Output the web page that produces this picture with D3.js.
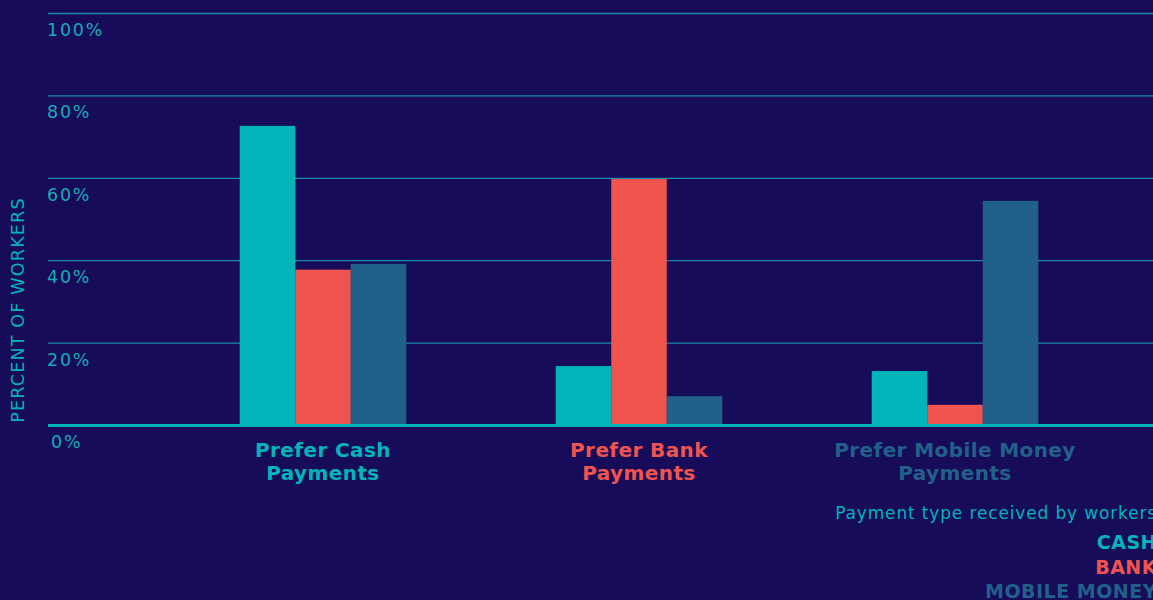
<!DOCTYPE html>
<html>
<head>
<meta charset="utf-8">
<script src="https://cdn.jsdelivr.net/npm/d3@7"></script>
<style>
  html, body { margin: 0; padding: 0; background: #170c59; overflow: hidden; }
  svg { display: block; }
</style>
</head>
<body>
<div id="chart"></div>
<script>
// data
const categories = ["Prefer Cash Payments", "Prefer Bank Payments", "Prefer Mobile Money Payments"]
const categoryLines = [["Prefer Cash", "Payments"], ["Prefer Bank", "Payments"], ["Prefer Mobile Money", "Payments"]]
const seriesNames = ["CASH", "BANK", "MOBILE MONEY"]
const cashValues = [72.6, 14.3, 13.1]
const bankValues = [37.7, 59.7, 4.9]
const mobileValues = [39.1, 7.0, 54.4]
const yTicks = [0, 20, 40, 60, 80, 100]
const legendTitle = "Payment type received by workers"
const yTitle = "PERCENT OF WORKERS"

const colors = ["#00b4b9", "#f0544f", "#216189"]
const bg = "#170c59"

const width = 1153
const height = 600

const svg = d3.select("#chart").append("svg")
    .attr("width", width)
    .attr("height", height)

svg.append("rect").attr("width", width).attr("height", height).attr("fill", bg)

const y = d3.scaleLinear().domain([0, 100]).range([425, 13])
const x0 = d3.scaleBand().domain(categories).range([165, 1113])
    .paddingInner(0.473).paddingOuter(0.2365)
const x1 = d3.scaleBand().domain(seriesNames).range([0, x0.bandwidth()])

const seriesValues = [cashValues, bankValues, mobileValues]
const rows = categories.map((c, i) => ({
    category: c,
    values: seriesNames.map((s, j) => ({ series: s, idx: j, value: seriesValues[j][i] }))
}))

// gridlines
const grid = svg.append("g")
    .attr("transform", "translate(48,0)")
    .call(d3.axisLeft(y).tickValues(yTicks.filter(d => d > 0)).tickSize(-(width - 48)).tickFormat(""))
grid.select(".domain").remove()
grid.selectAll("line").attr("stroke", "#1a8aa8").attr("stroke-width", 1.3)

// tick labels sit under their gridline
svg.append("g").selectAll("text")
    .data(yTicks)
    .enter().append("text")
    .attr("x", d => d === 0 ? 51 : 47)
    .attr("y", d => y(d) + 23)
    .attr("fill", "#19aab5")
    .attr("font-family", "'DejaVu Sans', sans-serif")
    .attr("font-size", 17.5)
    .attr("letter-spacing", 1.8)
    .text(d => d + "%")

// bars
const groups = svg.append("g").selectAll("g")
    .data(rows)
    .enter().append("g")
    .attr("transform", d => "translate(" + x0(d.category) + ",0)")

groups.selectAll("rect")
    .data(d => d.values)
    .enter().append("rect")
    .attr("x", d => x1(d.series))
    .attr("width", x1.bandwidth())
    .attr("y", d => y(d.value))
    .attr("height", d => y(0) - y(d.value))
    .attr("fill", d => colors[d.idx])

// baseline
svg.append("line")
    .attr("x1", 48).attr("x2", width)
    .attr("y1", y(0) + 0.5).attr("y2", y(0) + 0.5)
    .attr("stroke", "#00b4b9").attr("stroke-width", 3)

// category labels, one text per line
const catG = svg.append("g")
categories.forEach((c, i) => {
    catG.selectAll(null)
        .data(categoryLines[i])
        .enter().append("text")
        .attr("x", x0(c) + x0.bandwidth() / 2)
        .attr("y", (d, k) => 457 + k * 23)
        .attr("text-anchor", "middle")
        .attr("fill", colors[i])
        .attr("font-family", "'DejaVu Sans', sans-serif")
        .attr("font-weight", 700)
        .attr("font-size", 20)
        .attr("letter-spacing", 0.4)
        .text(d => d)
})

// y axis title
svg.append("text")
    .attr("transform", "translate(24,310) rotate(-90)")
    .attr("text-anchor", "middle")
    .attr("fill", "#00b4b9")
    .attr("font-family", "'DejaVu Sans', sans-serif")
    .attr("font-size", 17.5)
    .attr("letter-spacing", 1.2)
    .text(yTitle)

// legend, right-aligned and running off the edge as in the original
const legendX = 1157
svg.append("text")
    .attr("x", legendX)
    .attr("y", 519)
    .attr("text-anchor", "end")
    .attr("fill", "#00b4b9")
    .attr("font-family", "'DejaVu Sans', sans-serif")
    .attr("font-size", 17)
    .attr("letter-spacing", 0.85)
    .text(legendTitle)

svg.append("g").selectAll("text")
    .data(seriesNames)
    .enter().append("text")
    .attr("x", legendX)
    .attr("y", (d, i) => 549 + i * 24.5)
    .attr("text-anchor", "end")
    .attr("fill", (d, i) => colors[i])
    .attr("font-family", "'DejaVu Sans', sans-serif")
    .attr("font-weight", 700)
    .attr("font-size", 19)
    .attr("letter-spacing", 0.5)
    .text(d => d)
</script>
</body>
</html>
